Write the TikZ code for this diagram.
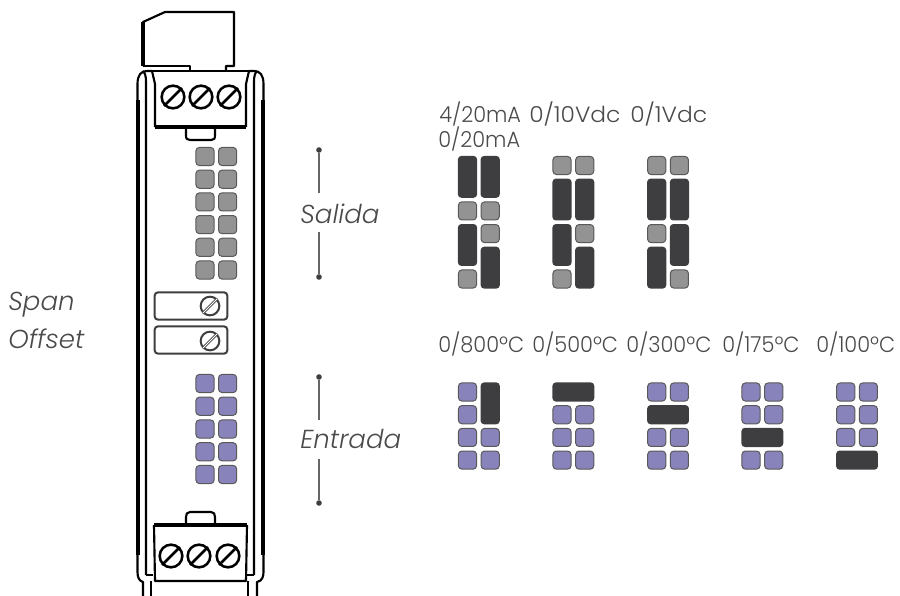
\documentclass[tikz,border=0pt]{standalone}
\usepackage{fontspec}
\setmainfont{Poppins Light}
\newfontfamily\narrowlabel[FakeStretch=0.95]{Poppins Light}
\newfontfamily\widelabel[FakeStretch=1.06]{Poppins Light}
\usetikzlibrary{positioning}
\definecolor{ledgray}{HTML}{939393}
\definecolor{ledpurple}{HTML}{8884BB}
\definecolor{leddark}{HTML}{3E3E40}
\definecolor{labelgray}{HTML}{4A4A4A}
\tikzset{
    led gray/.style={shape=rectangle, draw=black!65, fill=ledgray, line width=0.75pt,
        rounded corners=2.6pt, minimum size=13.6pt, inner sep=0pt},
    led purple/.style={led gray, fill=ledpurple},
    led vbar/.style={shape=rectangle, fill=leddark, rounded corners=2.6pt,
        minimum width=14.4pt, minimum height=31.4pt, inner sep=0pt},
    led hbar/.style={led vbar, minimum width=31.4pt, minimum height=14.4pt},
    main label/.style={anchor=base west, inner sep=0pt, text=labelgray, font=\fontsize{16.5}{16.5}\narrowlabel},
    wide label/.style={main label, font=\fontsize{16.5}{16.5}\widelabel},
    side label/.style={anchor=base west, inner sep=0pt, text=labelgray, font=\fontsize{19.5}{19.5}\selectfont\itshape},
    housing/.style={draw=black, line width=2.8pt, line join=round},
    housing thin/.style={draw=black, line width=1.6pt, line join=round},
    term screw/.style={shape=circle, draw=black, line width=1.9pt, minimum size=17pt, inner sep=0pt},
    trim screw/.style={shape=circle, draw=leddark, line width=1.5pt, minimum size=14pt, inner sep=0pt},
    trim box/.style={shape=rectangle, draw=leddark, line width=1.5pt, rounded corners=2.5pt,
        minimum width=54.5pt, minimum height=20.5pt, inner sep=0pt},
    bracket/.style={draw=black!60, line width=1.1pt},
    bracket dot/.style={shape=circle, fill=leddark, minimum size=4.2pt, inner sep=0pt}
}
\begin{document}
\begin{tikzpicture}[x=0.75pt,y=-0.75pt]
    \useasboundingbox (0,0) rectangle (900,596);

    % housing
    \draw[housing thin] (143,66) -- (143,22) -- (165,12) -- (234,12) -- (234,66) -- (226,66) -- (226,71);
    \draw[housing thin] (143,66) -- (190,66) -- (190,71);
    \draw[housing] (143,22) -- (143,66);
    \draw[housing] (138,100) -- (138,555);
    \draw[housing] (263,100) -- (263,555);
    \draw[housing thin] (137.5,100) -- (137.5,84) .. controls (137.5,75) and (141,71) .. (147,71) -- (152,71);
    \draw[housing thin] (263.5,100) -- (263.5,84) .. controls (263.5,75) and (260,71) .. (254,71) -- (249,71);
    \draw[housing thin] (146,575) -- (146,82) .. controls (146,76) and (145,73) .. (143,71);
    \draw[housing thin] (254,575) -- (254,82) .. controls (254,76) and (255,73) .. (257,71);
    \draw[housing thin] (152,71) -- (249,71);
    \draw[housing thin] (152,71) -- (155,84) -- (155,127);
    \draw[housing thin] (249,71) -- (246,84) -- (246,127);
    \draw[housing] (155,127) -- (246,127);
    \draw[housing thin] (186,127) -- (186,135) .. controls (186,139) and (187,140) .. (190,140)
        -- (211,140) .. controls (214,140) and (215,139) .. (215,135) -- (215,127);
    % bottom of housing
    \draw[housing thin] (137.5,555) -- (137.5,572) .. controls (137.5,577) and (139,581) .. (143,582) -- (143,596);
    \draw[housing thin] (263.5,555) -- (263.5,572) .. controls (263.5,577) and (262,581) .. (257,582) -- (257,596);
    \draw[housing thin] (146,575) -- (153,575);
    \draw[housing thin] (254,575) -- (247,575);
    \draw[housing thin] (151,581) -- (151,596);
    \draw[housing thin] (248,581) -- (248,596);
    \draw[housing] (154,525) -- (247,525);
    \draw[housing thin] (154,525) -- (155,581) -- (246,581) -- (247,525);
    \draw[housing thin] (186,525) -- (186,517) .. controls (186,514) and (187,512) .. (190,512)
        -- (211,512) .. controls (214,512) and (215,514) .. (215,517) -- (215,525);

    % terminal screws
    \foreach \n/\x/\y in {ta/173/97, tb/201/97, tc/229/97, ba/171/556, bb/199/556, bc/228/556}{
        \node[term screw] (\n) at (\x,\y) {};
        \draw[line width=1.9pt] (\n.south west) -- (\n.north east);
    }

    % span and offset trimmers
    \node[trim box] (span box) at (191,306) {};
    \node[trim box] (offset box) at (191,340) {};
    \foreach \n/\y in {span/306, offset/341}{
        \node[trim screw] (\n) at (210,\y) {};
        \draw[draw=leddark, line width=2pt] (\n.south west) -- (\n.north east);
        \draw[draw=white, line width=0.7pt] (\n.south west) -- (\n.north east);
    }

    % leds on the housing
    \foreach \r/\y in {1/156.5, 2/179.2, 3/201.9, 4/224.6, 5/247.3, 6/270}{
        \node[led gray] (sal\r) at (205,\y) {};
        \node[led gray] (sar\r) [right = 2.6pt of sal\r] {};
    }
    \foreach \r/\y in {1/383.5, 2/406.2, 3/429, 4/451.8, 5/474.5}{
        \node[led purple] (enl\r) at (205,\y) {};
        \node[led purple] (enr\r) [right = 2.6pt of enl\r] {};
    }

    % output settings
    \foreach \n/\x/\y in {oa1/467.5/210.9, oa2/490.2/210.9, oa3/490.2/233.6, oa4/467.5/279,
        ob1/562/165.5, ob2/584.7/165.5, ob3/584.7/233.6, ob4/562/279,
        oc1/656.7/165.5, oc2/679.4/165.5, oc3/656.7/233.6, oc4/679.4/279}{
        \node[led gray] (\n) at (\x,\y) {};
    }
    \foreach \n/\x/\y in {va1/467.5/176.85, va2/490.2/176.85, va3/467.5/245, va4/490.2/267.65,
        vb1/562/199.55, vb2/584.7/199.55, vb3/562/245, vb4/584.7/267.65,
        vc1/656.7/199.55, vc2/679.4/199.55, vc3/656.7/267.65, vc4/679.4/245}{
        \node[led vbar] (\n) at (\x,\y) {};
    }

    % input settings
    \foreach \n/\x/\y in {ia1/467.5/392, ia2/467.5/414.7, ia3/467.5/437.4, ia4/490.2/437.4, ia5/467.5/460.1, ia6/490.2/460.1,
        ib1/562/414.7, ib2/584.7/414.7, ib3/562/437.4, ib4/584.7/437.4, ib5/562/460.1, ib6/584.7/460.1,
        ic1/656.7/392, ic2/679.4/392, ic3/656.7/437.4, ic4/679.4/437.4, ic5/656.7/460.1, ic6/679.4/460.1,
        id1/751/392, id2/773.7/392, id3/751/414.7, id4/773.7/414.7, id5/751/460.1, id6/773.7/460.1,
        ie1/845.7/392, ie2/868.4/392, ie3/845.7/414.7, ie4/868.4/414.7, ie5/845.7/437.4, ie6/868.4/437.4}{
        \node[led purple] (\n) at (\x,\y) {};
    }
    \node[led vbar] (ia bar) at (490.2,403.35) {};
    \node[led hbar] (ib bar) at (573.35,392) {};
    \node[led hbar] (ic bar) at (668.05,414.7) {};
    \node[led hbar] (id bar) at (762.35,437.4) {};
    \node[led hbar] (ie bar) at (857.05,460.1) {};

    % brackets
    \node[bracket dot] (sal top) at (319,150) {};
    \node[bracket dot] (sal bot) at (319,277) {};
    \node[bracket dot] (ent top) at (319,377) {};
    \node[bracket dot] (ent bot) at (319,503) {};
    \coordinate (sal a) at (319,193);
    \coordinate (sal b) at (319,232);
    \coordinate (ent a) at (319,420);
    \coordinate (ent b) at (319,459);
    \draw[bracket] (sal top) -- (sal a);
    \draw[bracket] (sal bot) -- (sal b);
    \draw[bracket] (ent top) -- (ent a);
    \draw[bracket] (ent bot) -- (ent b);

    % labels
    \node[side label] (salida) at (300,223) {Salida};
    \node[side label] (entrada) at (300,448) {Entrada};
    \node[side label] (span label) at (8,310) {Span};
    \node[side label] (offset label) at (8,348) {Offset};

    \node[main label] (o1) at (439,122) {4/20mA};
    \node[wide label] (o2) at (529,122) {0/10Vdc};
    \node[wide label] (o3) at (630,122) {0/1Vdc};
    \node[main label] (o4) at (438,147) {0/20mA};

    \node[main label] (i1) at (438,352) {0/800ºC};
    \node[main label] (i2) at (532,352) {0/500ºC};
    \node[main label] (i3) at (626,352) {0/300ºC};
    \node[main label] (i4) at (722,352) {0/175ºC};
    \node[main label] (i5) at (816,352) {0/100ºC};
\end{tikzpicture}
\end{document}
